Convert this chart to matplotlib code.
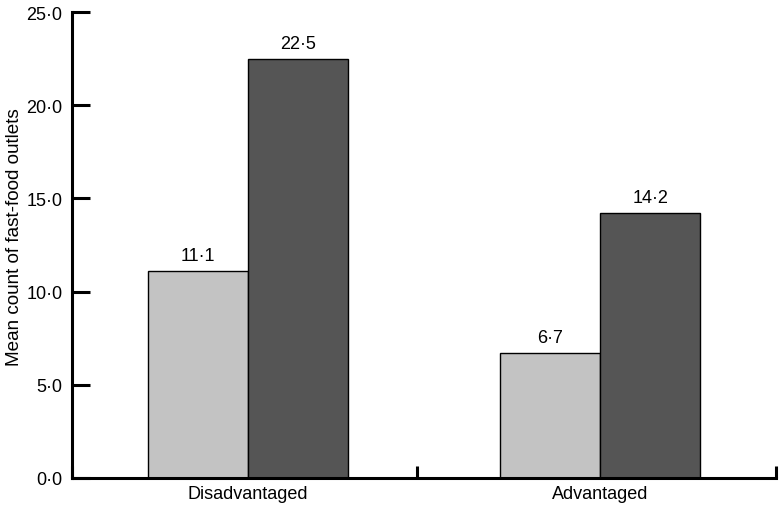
import numpy as np
import matplotlib.pyplot as plt
from matplotlib.ticker import FixedLocator

# data
groups = ['Disadvantaged', 'Advantaged']
series_light = [11.1, 6.7]
series_dark = [22.5, 14.2]
y_ticks = [0, 5, 10, 15, 20, 25]

plt.rcParams['font.family'] = ['Liberation Sans', 'DejaVu Sans']
fs = 13

fig = plt.figure(figsize=(7.8, 5.06), dpi=100)
ax = fig.add_axes([0.0923, 0.0534, 0.9027, 0.9206])

x = np.arange(len(groups))
w = 0.285
b1 = ax.bar(x - w / 2, series_light, w, color='#c3c3c3', edgecolor='black', linewidth=1.0)
b2 = ax.bar(x + w / 2, series_dark, w, color='#555555', edgecolor='black', linewidth=1.0)

def fmt(v):
    return f"{v:.1f}".replace('.', '\u00b7')

for bars, vals in ((b1, series_light), (b2, series_dark)):
    for r, v in zip(bars, vals):
        ax.annotate(fmt(v), (r.get_x() + r.get_width() / 2, v), xytext=(0, 5),
                    textcoords='offset points', ha='center', va='bottom', fontsize=fs)

ax.set_xlim(-0.5, 1.5)
ax.set_ylim(0, 25)
ax.set_yticks(y_ticks)
ax.set_yticklabels([fmt(t) for t in y_ticks], fontsize=fs)
ax.set_xticks(x)
ax.set_xticklabels(groups, fontsize=fs)
ax.tick_params(axis='x', which='major', length=0, pad=5)
ax.xaxis.set_minor_locator(FixedLocator([-0.5, 0.48, 1.5]))
ax.tick_params(axis='x', which='minor', direction='in', length=9, width=2.2)
ax.tick_params(axis='y', direction='in', length=13, width=2.2, pad=7)
ax.set_ylabel('Mean count of fast-food outlets', fontsize=13.6)
ax.yaxis.set_label_coords(-0.069, 0.52)

for s in ('top', 'right'):
    ax.spines[s].set_visible(False)
for s in ('left', 'bottom'):
    ax.spines[s].set_linewidth(2.2)
ax.spines['left'].set_bounds(0, 25)

fig.savefig('out.png', dpi=100)
